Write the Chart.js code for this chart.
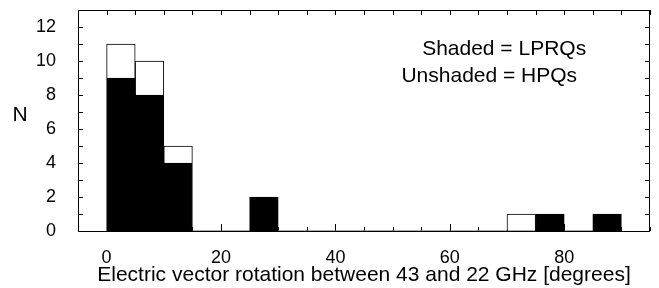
<!DOCTYPE html>
<html>
<head>
<meta charset="utf-8">
<script src="https://cdn.jsdelivr.net/npm/chart.js@4"></script>
<style>
  html, body { margin: 0; padding: 0; background: #fff; }
</style>
</head>
<body>
<canvas id="histChart" width="659" height="288"></canvas>
<script>
// 5 degree bins, left edges
const binWidth = 5;
const binStarts = [0, 5, 10, 15, 20, 25, 30, 35, 40, 45, 50, 55, 60, 65, 70, 75, 80, 85];
// shaded = LPRQs (bottom of stack), unshaded = HPQs (on top)
const lprqCounts = [9, 8, 4, 0, 0, 2, 0, 0, 0, 0, 0, 0, 0, 0, 0, 1, 0, 1];
const hpqCounts  = [2, 2, 1, 0, 0, 0, 0, 0, 0, 0, 0, 0, 0, 0, 1, 0, 0, 0];
const xTickValues = [0, 20, 40, 60, 80];
const yTickValues = [0, 2, 4, 6, 8, 10, 12];

const FAMILY = "'Liberation Sans', Arial, sans-serif";
const TICK_FONT = { family: FAMILY, size: 18 };
const LABEL_FONT = { family: FAMILY, size: 21 };

const toPoints = counts => binStarts.map((s, i) => ({ x: s + binWidth / 2, y: counts[i] }));

// inward ticks on all four sides, frame, "N" label and the key text
const frameTicks = {
    id: 'frameTicks',
    beforeDatasetsDraw(chart) {
        const { ctx, chartArea: a, scales: { x, y } } = chart;
        ctx.save();
        ctx.strokeStyle = '#000';
        ctx.lineWidth = 1;
        ctx.beginPath();
        for (let v = x.min; v <= x.max; v += 5) {
            const px = Math.round(x.getPixelForValue(v)) + 0.5;
            const major = v % 20 === 0;
            ctx.moveTo(px, a.bottom);
            ctx.lineTo(px, a.bottom - (major ? 7 : 4));
            ctx.moveTo(px, a.top);
            ctx.lineTo(px, a.top + 5);
        }
        for (let v = y.min; v <= y.max; v += 1) {
            const py = Math.round(y.getPixelForValue(v)) + 0.5;
            ctx.moveTo(a.left, py);
            ctx.lineTo(a.left + 5, py);
            ctx.moveTo(a.right, py);
            ctx.lineTo(a.right - 5, py);
        }
        ctx.stroke();
        ctx.restore();
    },
    afterDatasetsDraw(chart) {
        const { ctx, chartArea: a, scales: { x, y } } = chart;
        ctx.save();
        ctx.strokeStyle = '#000';
        ctx.lineWidth = 1;
        ctx.strokeRect(Math.round(a.left) + 0.5, Math.round(a.top) + 0.5,
            Math.round(a.right - a.left) - 1, Math.round(a.bottom - a.top));
        ctx.fillStyle = '#000';
        ctx.font = LABEL_FONT.size + 'px ' + FAMILY;
        ctx.textAlign = 'center';
        ctx.textBaseline = 'middle';
        ctx.fillText('N', 20, y.getPixelForValue(6.83));
        ctx.fillText('Shaded = LPRQs', x.getPixelForValue(69.5), y.getPixelForValue(10.67));
        ctx.fillText('Unshaded = HPQs', x.getPixelForValue(66.9), y.getPixelForValue(9.13));
        ctx.restore();
    }
};

new Chart(document.getElementById('histChart'), {
    type: 'bar',
    data: {
        datasets: [
            {
                label: 'LPRQs',
                data: toPoints(lprqCounts),
                backgroundColor: '#000',
                borderColor: '#000',
                borderWidth: c => (c.raw && c.raw.y ? 1 : 0),
                barPercentage: 1,
                categoryPercentage: 1
            },
            {
                label: 'HPQs',
                data: toPoints(hpqCounts),
                backgroundColor: '#fff',
                borderColor: '#000',
                borderWidth: c => (c.raw && c.raw.y ? 1 : 0),
                barPercentage: 1,
                categoryPercentage: 1
            }
        ]
    },
    options: {
        responsive: false,
        animation: false,
        devicePixelRatio: 1,
        layout: { padding: { top: 10, right: 9, left: 0, bottom: 0 } },
        plugins: { legend: { display: false }, tooltip: { enabled: false } },
        scales: {
            x: {
                type: 'linear',
                min: -5,
                max: 95,
                offset: false,
                stacked: true,
                grid: { display: false },
                border: { display: false },
                afterBuildTicks: s => { s.ticks = xTickValues.map(v => ({ value: v })); },
                afterFit: s => { s.height = 57; s.paddingLeft = 0; s.paddingRight = 0; },
                ticks: { font: TICK_FONT, color: '#000', padding: 8, maxRotation: 0 },
                title: {
                    display: true,
                    text: 'Electric vector rotation between 43 and 22 GHz [degrees]',
                    font: LABEL_FONT,
                    color: '#000',
                    padding: { top: 0, bottom: 0 }
                }
            },
            y: {
                min: 0,
                max: 13,
                stacked: true,
                grid: { display: false },
                border: { display: false },
                afterBuildTicks: s => { s.ticks = yTickValues.map(v => ({ value: v })); },
                afterFit: s => { s.width = 78; s.paddingTop = 0; s.paddingBottom = 0; },
                ticks: { font: TICK_FONT, color: '#000', padding: 14 }
            }
        }
    },
    plugins: [frameTicks]
});
</script>
</body>
</html>
